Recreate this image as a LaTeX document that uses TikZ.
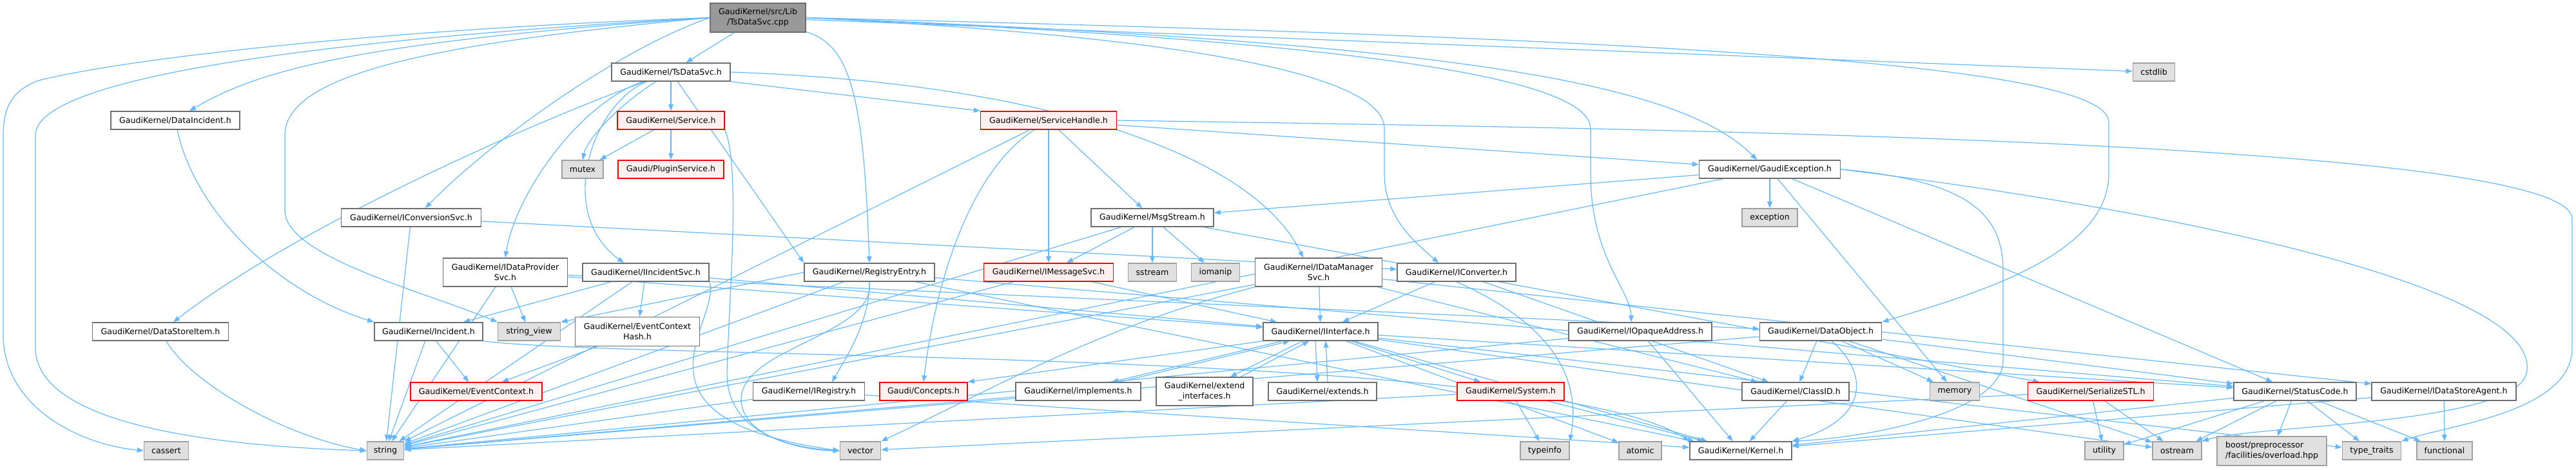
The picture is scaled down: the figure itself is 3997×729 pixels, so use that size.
\documentclass[tikz,border=0pt]{standalone}
\usepackage{fontspec}
\setmainfont{DejaVu Sans}
\usetikzlibrary{arrows.meta}
\definecolor{edgec}{RGB}{99,184,255}
\definecolor{bordc}{RGB}{110,110,110}
\definecolor{greyfill}{RGB}{224,224,224}
\definecolor{greybord}{RGB}{160,160,160}
\definecolor{redfill}{RGB}{255,240,240}
\definecolor{rootfill}{RGB}{153,153,153}
\pgfdeclarelayer{bg}
\pgfsetlayers{bg,main}
\tikzset{
  nd/.style={draw=bordc, fill=white, line width=0.8pt, inner sep=0pt, minimum height=14pt,
    font=\fontsize{6.3}{8}\selectfont, align=center},
  gr/.style={nd, fill=greyfill, draw=greybord},
  rd/.style={nd, fill=redfill, draw=red},
  rt/.style={nd, fill=rootfill, draw=bordc},
  e/.style={draw=edgec, line width=0.6pt, -{Triangle[length=5pt,width=3.8pt]}}
}
\begin{document}
\begin{tikzpicture}[x=0.5pt,y=-0.5pt]
\useasboundingbox (0,0) rectangle (3997,729);
% row 0
\node[rt, minimum width=74pt, minimum height=22.5pt] (root) at (1176,27.5) {GaudiKernel/src/Lib\\/TsDataSvc.cpp};
% row 1
\node[nd, minimum width=92pt] (tsh) at (1041,112) {GaudiKernel/TsDataSvc.h};
\node[gr, minimum width=32.5pt] (cstdlib) at (3342,112) {cstdlib};
% row 2
\node[nd, minimum width=100pt] (dinc) at (272,187) {GaudiKernel/DataIncident.h};
\node[rd, minimum width=83pt] (svc) at (1041,187) {GaudiKernel/Service.h};
\node[rd, minimum width=105.5pt] (sh) at (1627,187) {GaudiKernel/ServiceHandle.h};
% row 3
\node[gr, minimum width=32pt] (mutex) at (904,263) {mutex};
\node[rd, minimum width=82pt] (plug) at (1041,263) {Gaudi/PluginService.h};
\node[nd, minimum width=109.5pt] (gexc) at (2746,263) {GaudiKernel/GaudiException.h};
% row 4
\node[nd, minimum width=108.5pt] (icnv) at (638,338) {GaudiKernel/IConversionSvc.h};
\node[nd, minimum width=95pt] (msg) at (1788,338) {GaudiKernel/MsgStream.h};
\node[gr, minimum width=43pt] (exc) at (2746,338) {exception};
% row 5
\node[nd, minimum width=96.5pt, minimum height=22pt] (idp) at (784,423) {GaudiKernel/IDataProvider\\Svc.h};
\node[nd, minimum width=98pt] (iinc) at (1002,423) {GaudiKernel/IIncidentSvc.h};
\node[nd, minimum width=101pt] (reg) at (1349,423) {GaudiKernel/RegistryEntry.h};
\node[rd, minimum width=100.5pt] (imsg) at (1627,423) {GaudiKernel/IMessageSvc.h};
\node[gr, minimum width=37.5pt] (sstream) at (1788,423) {sstream};
\node[gr, minimum width=37.5pt] (iomanip) at (1886,423) {iomanip};
\node[nd, minimum width=98.5pt, minimum height=22pt] (idm) at (2046,423) {GaudiKernel/IDataManager\\Svc.h};
\node[nd, minimum width=92pt] (iconv) at (2260,423) {GaudiKernel/IConverter.h};
% row 6
\node[nd, minimum width=105.5pt] (dsi) at (249,515) {GaudiKernel/DataStoreItem.h};
\node[nd, minimum width=84pt] (inc) at (665,515) {GaudiKernel/Incident.h};
\node[gr, minimum width=48.5pt] (sv) at (821,515) {string\_view};
\node[nd, minimum width=96.5pt, minimum height=22.5pt] (ech) at (989,515) {GaudiKernel/EventContext\\Hash.h};
\node[nd, minimum width=89pt] (iif) at (2049,515) {GaudiKernel/IInterface.h};
\node[nd, minimum width=111pt] (ioa) at (2545,515) {GaudiKernel/IOpaqueAddress.h};
\node[nd, minimum width=94.5pt] (dobj) at (2825,515) {GaudiKernel/DataObject.h};
% row 7
\node[rd, minimum width=102pt] (ec) at (739,608) {GaudiKernel/EventContext.h};
\node[nd, minimum width=86.5pt] (ireg) at (1255,608) {GaudiKernel/IRegistry.h};
\node[rd, minimum width=68pt] (conc) at (1433,608) {Gaudi/Concepts.h};
\node[nd, minimum width=97pt] (impl) at (1673,608) {GaudiKernel/implements.h};
\node[nd, minimum width=75pt, minimum height=22pt] (extif) at (1869,608) {GaudiKernel/extend\\\_interfaces.h};
\node[nd, minimum width=84pt] (ext) at (2052,608) {GaudiKernel/extends.h};
\node[rd, minimum width=83pt] (sys) at (2344,608) {GaudiKernel/System.h};
\node[nd, minimum width=83pt] (cid) at (2786,608) {GaudiKernel/ClassID.h};
\node[gr, minimum width=38.5pt] (mem) at (3033,608) {memory};
\node[rd, minimum width=97.5pt] (ser) at (3244,608) {GaudiKernel/SerializeSTL.h};
\node[nd, minimum width=95pt] (sc) at (3561,608) {GaudiKernel/StatusCode.h};
\node[nd, minimum width=112pt] (idsa) at (3792,608) {GaudiKernel/IDataStoreAgent.h};
% row 8
\node[gr, minimum width=34.5pt] (cassert) at (258,700) {cassert};
\node[gr, minimum width=28.5pt] (string) at (598,700) {string};
\node[gr, minimum width=31.5pt] (vector) at (1335,700) {vector};
\node[gr, minimum width=38pt] (typeinfo) at (2397,700) {typeinfo};
\node[gr, minimum width=33pt] (atomic) at (2545,700) {atomic};
\node[nd, minimum width=79pt] (kern) at (2701,700) {GaudiKernel/Kernel.h};
\node[gr, minimum width=30pt] (utility) at (3265,700) {utility};
\node[gr, minimum width=38pt] (ostream) at (3378,700) {ostream};
\node[gr, minimum width=85pt, minimum height=22.5pt, align=left] (boost) at (3525,700.5) {boost/preprocessor\\/facilities/overload.hpp};
\node[gr, minimum width=45.5pt] (tt) at (3680,700) {type\_traits};
\node[gr, minimum width=43pt] (func) at (3793,700) {functional};

\begin{pgfonlayer}{bg}
% root
\draw[e] (root) -- (tsh);
\draw[e] (root.west) .. controls (600,45) and (200,90) .. (60,125) .. controls (20,140) and (5,165) .. (5,210) -- (5,520) .. controls (5,630) and (120,690) .. (cassert.west);
\draw[e] (root.west) .. controls (600,55) and (55,110) .. (55,210) -- (55,540) .. controls (55,640) and (250,690) .. (string.west);
\draw[e] (root.west) .. controls (700,65) and (442,110) .. (442,210) -- (442,330) .. controls (450,400) and (650,450) .. (sv.north west);
\draw[e] (root.west) .. controls (550,65) and (400,110) .. ([xshift=11pt]dinc.north);
\draw[e] (root.west) .. controls (950,80) and (750,230) .. ([xshift=11pt]icnv.north);
\draw[e] (root) -- (cstdlib);
\draw[e] (root.east) .. controls (1800,55) and (2148,110) .. (2148,200) -- (2148,270) .. controls (2148,340) and (2200,380) .. ([xshift=-14pt]iconv.north);
\draw[e] (root.east) .. controls (2000,60) and (2468,110) .. (2468,200) -- (2468,270) .. controls (2468,400) and (2530,450) .. ([xshift=-7pt]ioa.north);
\draw[e] (root.east) .. controls (2600,60) and (3272,100) .. (3272,190) -- (3272,270) .. controls (3272,400) and (3050,460) .. (dobj.north east);
\draw[e] (root.east) .. controls (2200,65) and (2600,120) .. ([xshift=-10pt]gexc.north);
\draw[e] (root) .. controls (1320,70) and (1340,150) .. (reg.north);
% TsDataSvc.h
\draw[e] (tsh) -- (svc);
\draw[e] (tsh) .. controls (950,170) and (910,220) .. (mutex.north);
\draw[e] (tsh.south east) -- (sh.north west);
\draw[e] (tsh.east) .. controls (1650,130) and (1950,250) .. ([xshift=-12pt]idm.north);
\draw[e] (tsh) -- (reg.north west);
\draw[e] (tsh) .. controls (800,200) and (450,360) .. ([xshift=10pt]dsi.north);
\draw[e] (tsh) .. controls (900,160) and (800,300) .. (idp.north);
\draw[e] (tsh) .. controls (920,160) and (860,330) .. ([xshift=-17pt]iinc.north);
% Service.h
\draw[e] (svc) -- (mutex);
\draw[e] (svc) -- (plug);
\draw[e] (svc.south east) .. controls (1150,260) and (1130,480) .. (1128,580) .. controls (1128,670) and (1220,695) .. (vector.west);
% ServiceHandle.h
\draw[e] (sh) -- (gexc);
\draw[e] (sh) -- (msg);
\draw[e] (sh) -- (imsg);
\draw[e] (sh) .. controls (1500,270) and (1450,450) .. (conc.north);
\draw[e] (sh) -- (string);
\draw[e] (sh.east) .. controls (2600,200) and (3991,220) .. (3991,340) -- (3991,540) .. controls (3991,640) and (3800,660) .. (tt.north east);
% GaudiException.h
\draw[e] (gexc) -- (exc);
\draw[e] (gexc) -- (msg);
\draw[e] (gexc) -- (string);
\draw[e] (gexc) -- (mem);
\draw[e] (gexc.east) .. controls (3050,280) and (3108,330) .. (3108,420) -- (3108,560) .. controls (3108,640) and (2900,680) .. (kern.north east);
\draw[e] (gexc) -- (sc);
\draw[e] (gexc.east) .. controls (3400,330) and (3950,450) .. (3920,580) .. controls (3900,660) and (3500,660) .. (ostream.north east);
% DataIncident.h
\draw[e] (dinc) .. controls (300,320) and (420,450) .. (inc.north west);
% IConversionSvc.h
\draw[e] (icnv) -- (iconv);
\draw[e] (icnv) -- (string);
% MsgStream.h
\draw[e] (msg) -- (imsg);
\draw[e] (msg) -- (sstream);
\draw[e] (msg) -- (iomanip);
\draw[e] (msg) -- (string);
\draw[e] (msg) -- (ser);
% IDataProviderSvc.h
\draw[e] (idp) -- (sv);
\draw[e] (idp) -- (string);
\draw[e] (idp) -- (iif);
\draw[e] (idp) -- (dobj);
% IIncidentSvc.h
\draw[e] (iinc) -- (inc);
\draw[e] (iinc) -- (ech);
\draw[e] (iinc) -- (string);
\draw[e] (iinc) -- (iif);
\draw[e] (iinc.south east) .. controls (1120,500) and (950,650) .. (vector.west);
% Incident.h
\draw[e] (inc) -- (ec);
\draw[e] (inc) -- (string);
\draw[e] (inc.south east) .. controls (1000,560) and (2400,540) .. (kern.north west);
% EventContextHash.h
\draw[e] (ech) -- (ec);
% RegistryEntry.h
\draw[e] (reg.south) .. controls (1350,500) and (1310,560) .. ([xshift=18pt]ireg.north);
\draw[e] (reg.west) -- (sv.north east);
\draw[e] (reg.south) .. controls (1360,520) and (1150,540) .. (1150,620) .. controls (1150,680) and (1250,700) .. (vector.west);
\draw[e] (reg) -- (string);
\draw[e] (reg) -- (sc);
\draw[e] (reg) -- (kern);
% IRegistry.h
\draw[e] (ireg) -- (string);
\draw[e] (ireg) -- (kern);
% IMessageSvc.h
\draw[e] (imsg) -- (string);
\draw[e] (imsg) -- (iif);
% IDataManagerSvc.h
\draw[e] (idm) -- (iif);
\draw[e] (idm) -- (string);
\draw[e] (idm.south west) .. controls (1700,510) and (1550,600) .. (vector.north east);
\draw[e] (idm) -- (idsa);
\draw[e] (idm) -- (cid);
% IConverter.h
\draw[e] (iconv) -- (iif);
\draw[e] (iconv) -- (cid);
\draw[e] (iconv.south) .. controls (2400,500) and (2455,580) .. (typeinfo.north east);
% IInterface.h and friends
\draw[e] ([xshift=-4pt]iif.south) -- ([xshift=-4pt]ext.north);
\draw[e] ([xshift=4pt]ext.north) -- ([xshift=4pt]iif.south);
\draw[e] ([xshift=-30pt]iif.south) -- ([xshift=26pt]impl.north);
\draw[e] ([xshift=32pt]impl.north) -- ([xshift=-24pt]iif.south);
\draw[e] ([xshift=-14pt]iif.south) -- ([xshift=20pt]extif.north);
\draw[e] ([xshift=28pt]extif.north) -- ([xshift=-9pt]iif.south);
\draw[e] (iif) -- (sys);
\draw[e] (iif.south west) -- (conc.north east);
\draw[e] (iif) -- (kern);
\draw[e] (iif) -- (sc);
\draw[e] (iif) -- (ostream);
\draw[e] (iif) -- (tt);
\draw[e] (iif) -- (atomic);
\draw[e] (impl) -- (string);
% System.h
\draw[e] (sys) -- (typeinfo);
\draw[e] (sys) -- (kern);
\draw[e] (sys) -- (string);
% IOpaqueAddress.h
\draw[e] (ioa) -- (string);
\draw[e] (ioa) -- (kern);
% DataObject.h
\draw[e] (dobj) -- (cid);
\draw[e] (dobj) -- (mem);
\draw[e] (dobj) .. controls (2900,580) and (2900,650) .. (kern.north east);
\draw[e] (dobj) -- (sc);
\draw[e] (dobj) -- (string);
\draw[e] (dobj) -- (ostream);
% DataStoreItem.h
\draw[e] (dsi) .. controls (300,600) and (450,680) .. (string.west);
% ClassID.h
\draw[e] (cid) -- (kern);
% SerializeSTL.h
\draw[e] (ser) -- (utility);
\draw[e] (ser) -- (ostream);
\draw[e] (ser) -- (vector);
% StatusCode.h
\draw[e] (sc) -- (kern);
\draw[e] (sc) -- (utility);
\draw[e] (sc) -- (ostream);
\draw[e] (sc) -- (boost);
\draw[e] (sc) -- (tt);
\draw[e] (sc) -- (func);
% IDataStoreAgent.h
\draw[e] (idsa) -- (func);
\draw[e] (idsa) -- (kern);
\end{pgfonlayer}
\end{tikzpicture}
\end{document}
